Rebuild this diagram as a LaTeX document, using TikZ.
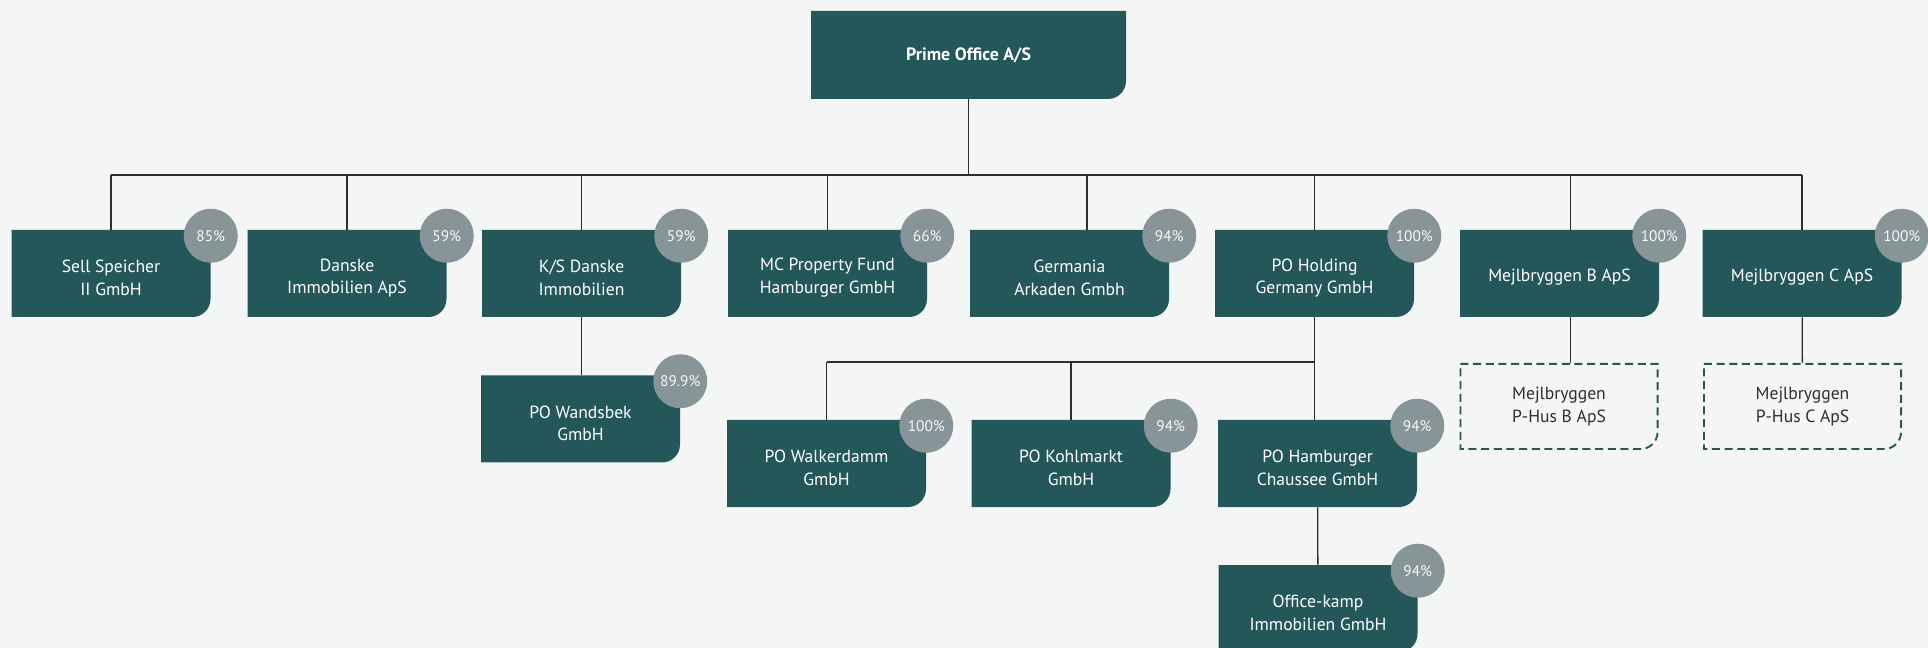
\documentclass[tikz,border=0pt]{standalone}
\usepackage{fontspec}
\setmainfont{PT Sans}
\usetikzlibrary{positioning}
\usetikzlibrary{calc}

\definecolor{boxteal}{HTML}{23575A}
\definecolor{sharegray}{HTML}{879598}
\definecolor{pagebg}{HTML}{F4F6F5}
\definecolor{linegray}{HTML}{2E2E2E}

% outline with one round corner (bottom right), #1 = inset
\newcommand\tabpath[1]{([shift={(#1,-#1)}]path picture bounding box.north west)
  -- ([shift={(-#1,-#1)}]path picture bounding box.north east)
  -- ([shift={(-#1,13.5pt)}]path picture bounding box.south east)
  arc[start angle=0,end angle=-90,radius=13.5pt-#1]
  -- ([shift={(#1,#1)}]path picture bounding box.south west) -- cycle}

\tikzset{
  tabbox/.style={minimum width=149.25pt, minimum height=65.25pt, inner sep=0pt,
    align=center, text=white, font=\fontsize{13.2pt}{17pt}\selectfont,
    path picture={\fill[boxteal] \tabpath{0pt};}},
  % text sits a little low in the boxes
  firm/.style={tabbox, execute at begin node={\rule{0pt}{#1}}},
  firm/.default=33pt,
  planned/.style={tabbox, text=linegray,
    path picture={\draw[boxteal, line width=1.4pt, dash pattern=on 6pt off 3.5pt] \tabpath{0.7pt};}},
  share/.style={circle, fill=sharegray, minimum size=40.5pt, inner sep=0pt,
    text=white!92!sharegray, font=\fontsize{11.5pt}{13pt}\selectfont},
  link/.style={draw=linegray, line width=1pt}
}

\begin{document}
\begin{tikzpicture}[x=0.75pt, y=-0.75pt]
  \fill[pagebg] (0,0) rectangle (1928,648);
  \useasboundingbox (0,0) rectangle (1928,648);

  \node[tabbox, minimum width=236.25pt, minimum height=66pt,
    font=\fontsize{13.4pt}{17pt}\selectfont\bfseries] (prime) at (968.5,55) {Prime Office A/S};

  % first level
  \node[firm] (sell) at (111,273.5) {Sell Speicher\\II GmbH};
  \node[firm] (danske) at (347,273.5) {Danske\\Immobilien ApS};
  \node[firm] (ksdanske) at (581.5,273.5) {K/S Danske\\Immobilien};
  \node[firm] (mcfund) at (827.5,273.5) {MC Property Fund\\Hamburger GmbH};
  \node[firm] (germania) at (1069.5,273.5) {Germania\\Arkaden Gmbh};
  \node[firm] (poholding) at (1314.5,273.5) {PO Holding\\Germany GmbH};
  \node[firm=15.5pt] (mejlb) at (1559.5,273.5) {Mejlbryggen B ApS};
  \node[firm=15.5pt] (mejlc) at (1802,273.5) {Mejlbryggen C ApS};

  % second level
  \node[firm] (wandsbek) at (580.5,419) {PO Wandsbek\\GmbH};
  \node[firm] (walkerdamm) at (826.5,463.5) {PO Walkerdamm\\GmbH};
  \node[firm] (kohlmarkt) at (1071,463.5) {PO Kohlmarkt\\GmbH};
  \node[firm] (hamburger) at (1317.5,463.5) {PO Hamburger\\Chaussee GmbH};
  \node[firm] (officekamp) at (1318,608.5) {Office-kamp\\Immobilien GmbH};
  \node[planned] (phusb) at (1559,406.5) {Mejlbryggen\\P-Hus B ApS};
  \node[planned] (phusc) at (1802.5,406.5) {Mejlbryggen\\P-Hus C ApS};

  \foreach \firmname/\pct in {sell/85, danske/59, ksdanske/59, mcfund/66, germania/94,
      poholding/100, mejlb/100, mejlc/100, wandsbek/89.9, walkerdamm/100,
      kohlmarkt/94, hamburger/94, officekamp/94}
    \node[share] (\firmname-share) at ([yshift=-4.5pt]\firmname.north east) {\pct\%};

  % connectors
  \coordinate (hub) at (968.5,175);
  \coordinate (subhub) at (1314.5,362);
  \draw[link] (prime) -- (hub);
  \draw[link] (sell.north |- hub) -- (mejlc.north |- hub);
  \foreach \firmname/\dx in {sell/0, danske/0, ksdanske/0, mcfund/0, germania/13,
      poholding/0, mejlb/8, mejlc/0}
    \draw[link] ([xshift=\dx pt]\firmname.north |- hub) -- ([xshift=\dx pt]\firmname.north);

  \draw[link] (ksdanske.south) -- (ksdanske.south |- wandsbek.north);
  \draw[link] (poholding.south) -- (poholding.south |- hamburger.north);
  \draw[link] (walkerdamm.north |- subhub) -- (subhub);
  \draw[link] (walkerdamm.north |- subhub) -- (walkerdamm.north);
  \draw[link] (kohlmarkt.north |- subhub) -- (kohlmarkt.north);
  \draw[link] (hamburger) -- (officekamp);
  \draw[link] ([xshift=8pt]mejlb.south) -- ([xshift=8pt]mejlb.south |- phusb.north);
  \draw[link] (mejlc) -- (phusc);
\end{tikzpicture}
\end{document}
